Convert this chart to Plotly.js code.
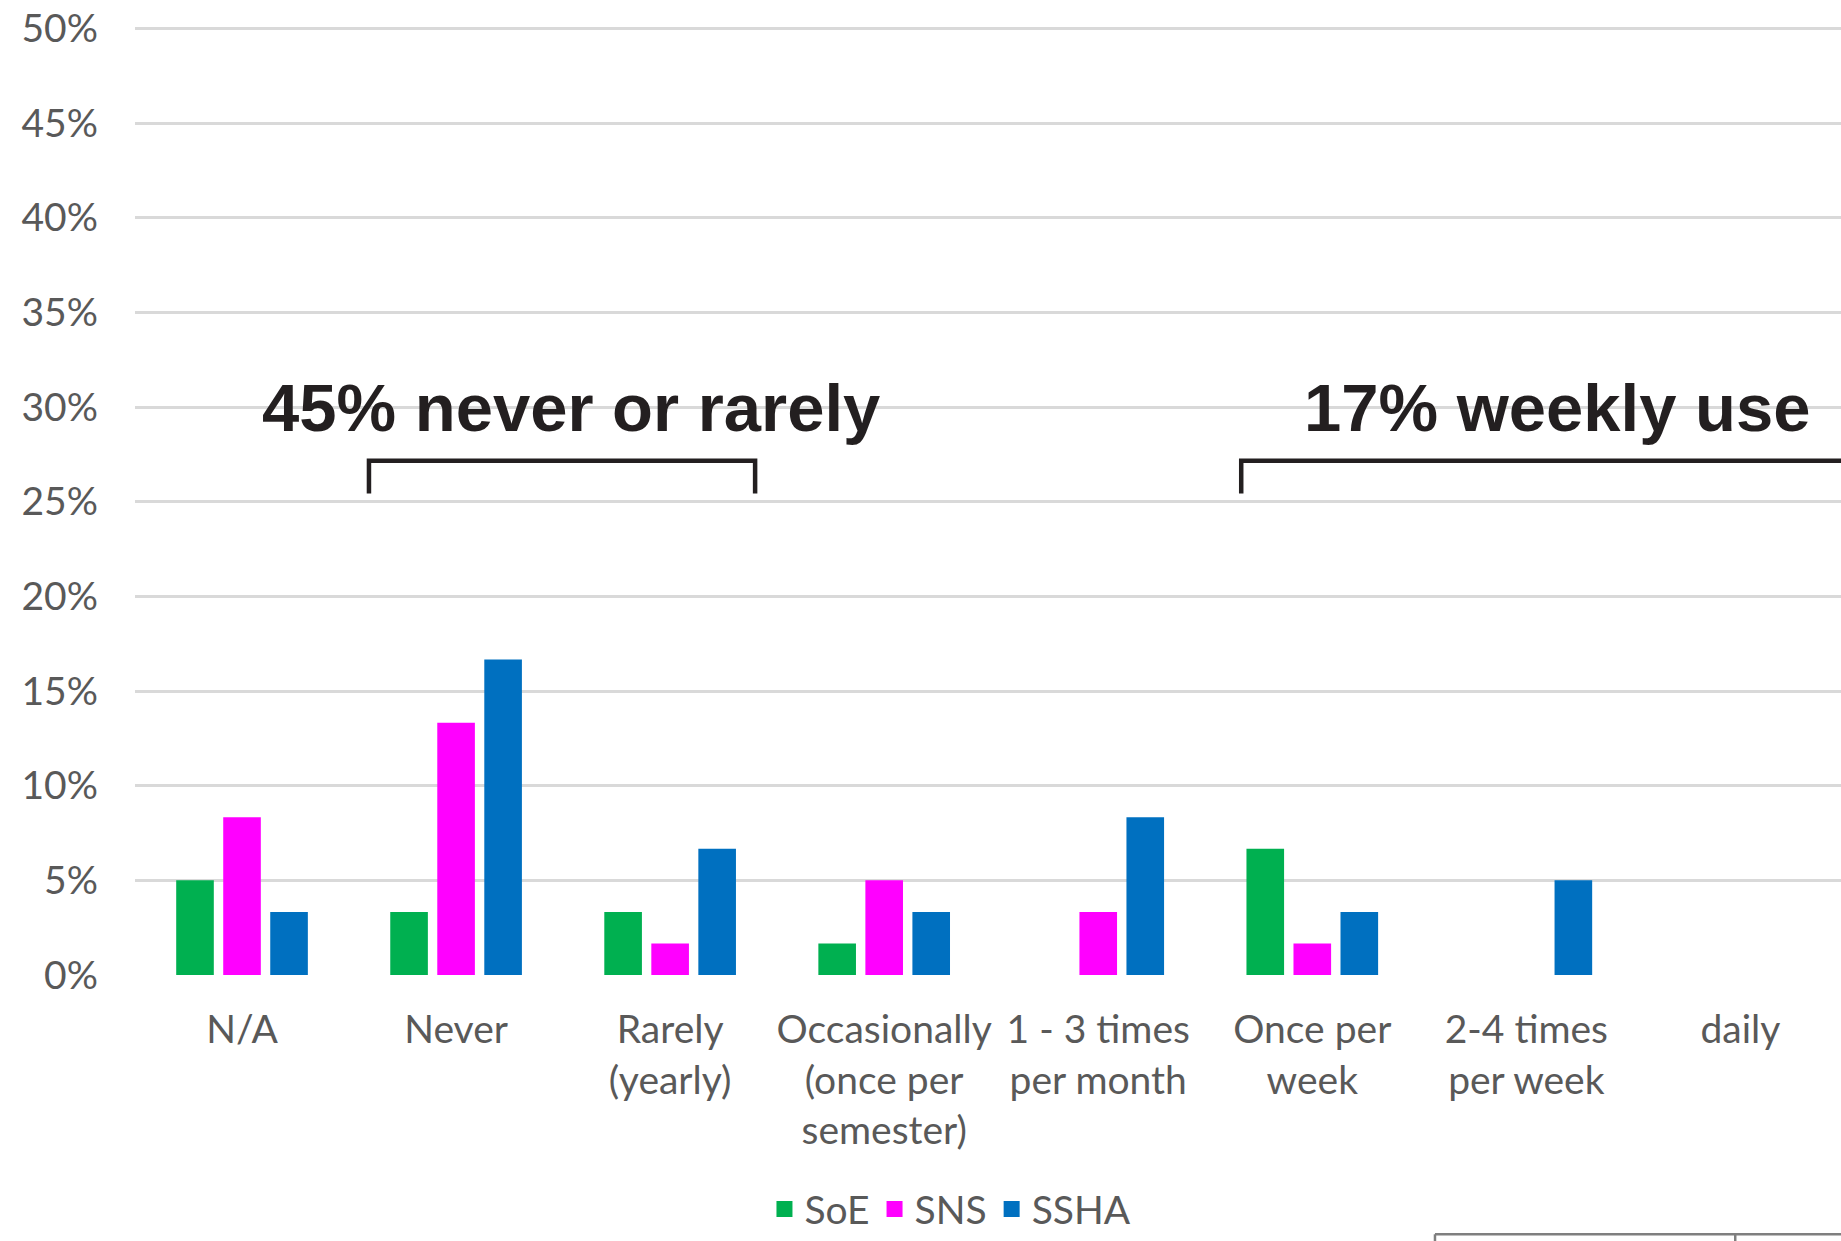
<!DOCTYPE html>
<html>
<head>
<meta charset="utf-8">
<script src="https://cdn.plot.ly/plotly-3.0.1.min.js"></script>
<style>html,body{margin:0;padding:0;background:#fff;}#chart{width:1841px;height:1241px;}</style>
</head>
<body>
<div id="chart"></div>
<script>
// ---- data ----
const categories = [
  "N/A",
  "Never",
  "Rarely<br>(yearly)",
  "Occasionally<br>(once per<br>semester)",
  "1 - 3 times<br>per month",
  "Once per<br>week",
  "2-4 times<br>per week",
  "daily"
];
const seriesNames = ["SoE", "SNS", "SSHA"];
const soeValues  = [0.05, 0.0333, 0.0333, 0.0167, 0, 0.0667, 0, 0];
const snsValues  = [0.0833, 0.1333, 0.0167, 0.05, 0.0333, 0.0167, 0, 0];
const sshaValues = [0.0333, 0.1667, 0.0667, 0.0333, 0.0833, 0.0333, 0.05, 0];
const yTickValues = [0, 0.05, 0.10, 0.15, 0.20, 0.25, 0.30, 0.35, 0.40, 0.45, 0.50];
const calloutTexts = ["45% never or rarely", "17% weekly use"];

// ---- styles ----
const colors = ["#00b050", "#ff00ff", "#0070c0"];
const labelFont = {family: "Lato, 'Open Sans', sans-serif", size: 39, color: "#595959"};
const calloutFont = {family: "'Liberation Sans', Arial, sans-serif", size: 67, color: "#231f20", weight: 700};
const ink = "#231f20";

const seriesValues = [soeValues, snsValues, sshaValues];
const barTraces = seriesNames.map((name, i) => ({
  type: "bar",
  name: name,
  legendgroup: name,
  showlegend: false,
  x: categories,
  y: seriesValues[i],
  marker: {color: colors[i], line: {width: 0}},
  hoverinfo: "skip"
}));
// legend keys (larger square swatches, no data of their own)
const legendTraces = seriesNames.map((name, i) => ({
  type: "scatter",
  mode: "markers",
  name: name,
  legendgroup: name,
  x: [null],
  y: [null],
  marker: {symbol: "square", size: 16, color: colors[i]},
  hoverinfo: "skip"
}));

const layout = {
  width: 1841,
  height: 1241,
  paper_bgcolor: "#ffffff",
  plot_bgcolor: "#ffffff",
  margin: {l: 135, r: 0, t: 27, b: 266, autoexpand: false},
  barmode: "group",
  bargap: 0.341,
  bargroupgap: 0.2,
  showlegend: true,
  legend: {
    orientation: "h",
    x: 0.478, xanchor: "center",
    y: -0.247, yanchor: "middle",
    font: labelFont,
    itemwidth: 30,
    traceorder: "normal"
  },
  xaxis: {
    type: "category",
    range: [-0.5, 7.47],
    showgrid: false,
    zeroline: false,
    showline: false,
    ticks: "",
    tickfont: labelFont,
    ticklabelstandoff: 28,
    fixedrange: true
  },
  yaxis: {
    range: [0, 0.5008],
    tickvals: yTickValues,
    tickformat: ".0%",
    showgrid: true,
    gridcolor: "#d9d9d9",
    gridwidth: 3,
    zeroline: false,
    showline: false,
    ticks: "",
    tickfont: labelFont,
    ticklabelstandoff: 36,
    fixedrange: true
  },
  annotations: [
    {x: 1.537, y: 0.30, xref: "x", yref: "y", text: "<b>" + calloutTexts[0] + "</b>",
     showarrow: false, xanchor: "center", yanchor: "middle", font: calloutFont},
    {x: 6.145, y: 0.30, xref: "x", yref: "y", text: "<b>" + calloutTexts[1] + "</b>",
     showarrow: false, xanchor: "center", yanchor: "middle", font: calloutFont}
  ],
  shapes: [
    {type: "path", xref: "x", yref: "y",
     path: "M 0.593 0.2543 L 0.593 0.2717 L 2.397 0.2717 L 2.397 0.2543",
     line: {color: ink, width: 4.5}},
    {type: "path", xref: "x", yref: "y",
     path: "M 4.668 0.2543 L 4.668 0.2717 L 7.6 0.2717",
     line: {color: ink, width: 4.5}},
    // top edge of a table below the chart (bottom-right)
    {type: "line", xref: "paper", yref: "paper", x0: 0.762, x1: 1.05, y0: -0.2735, y1: -0.2735,
     line: {color: "#7f7f7f", width: 2.5}},
    {type: "line", xref: "paper", yref: "paper", x0: 0.762, x1: 0.762, y0: -0.2735, y1: -0.32,
     line: {color: "#7f7f7f", width: 2.5}},
    {type: "line", xref: "paper", yref: "paper", x0: 0.938, x1: 0.938, y0: -0.2735, y1: -0.32,
     line: {color: "#7f7f7f", width: 2.5}}
  ]
};

Plotly.newPlot("chart", barTraces.concat(legendTraces), layout, {staticPlot: true, displayModeBar: false});
</script>
</body>
</html>
